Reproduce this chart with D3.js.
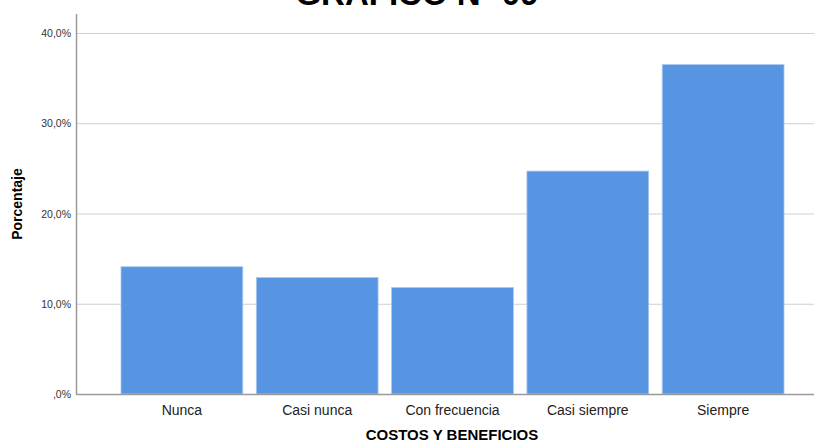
<!DOCTYPE html>
<html>
<head>
<meta charset="utf-8">
<script src="https://cdn.jsdelivr.net/npm/d3@7"></script>
<style>
	body { margin: 0; background: #fff; }
	svg { display: block; font-family: Arial, "Liberation Sans", sans-serif; }
</style>
</head>
<body>
<div id="chart"></div>
<script>
	let categories = ["Nunca", "Casi nunca", "Con frecuencia", "Casi siempre", "Siempre"];
	let percentages = [14.1, 12.9, 11.8, 24.7, 36.5];
	let yTicks = [0, 10, 20, 30, 40];

	let width = 814;
	let height = 443;
	let plotLeft = 76;
	let plotBottom = 394;
	let plotTop = 33;

	let svg = d3.select('#chart')
		.append('svg')
		.attr('width', width)
		.attr('height', height);

	let x = d3.scaleBand()
		.domain(categories)
		.range([121, 784])
		.paddingInner(0.1)
		.paddingOuter(0);

	let y = d3.scaleLinear()
		.domain([0, 40])
		.range([plotBottom, plotTop]);

	// Title (cut off at the top, as in the original)
	svg.append('text')
		.attr('x', 417)
		.attr('y', 5)
		.attr('text-anchor', 'middle')
		.style('font-size', '33px')
		.style('font-weight', 'bold')
		.text('GRÁFICO Nº 09');

	// Grid lines
	svg.selectAll('.grid')
		.data(yTicks.slice(1))
		.enter()
		.append('line')
		.attr('x1', plotLeft)
		.attr('x2', width)
		.attr('y1', d => y(d) + 0.5)
		.attr('y2', d => y(d) + 0.5)
		.attr('stroke', '#cfcfcf')
		.attr('stroke-width', 1);

	// Bars
	svg.selectAll('.bar')
		.data(percentages)
		.enter()
		.append('rect')
		.attr('x', (d, i) => x(categories[i]))
		.attr('y', d => y(d))
		.attr('width', x.bandwidth())
		.attr('height', d => plotBottom - y(d))
		.attr('fill', '#5795e3')
		.attr('stroke', '#a9c8f0')
		.attr('stroke-width', 0.8);

	// Axes lines
	svg.append('line')
		.attr('x1', plotLeft + 0.5).attr('x2', plotLeft + 0.5)
		.attr('y1', 14).attr('y2', plotBottom)
		.attr('stroke', '#9a9a9a').attr('stroke-width', 1.5);

	svg.append('line')
		.attr('x1', plotLeft).attr('x2', width)
		.attr('y1', plotBottom + 0.5).attr('y2', plotBottom + 0.5)
		.attr('stroke', '#9a9a9a').attr('stroke-width', 1.5);

	// Y tick labels
	let fmt = d => (d === 0 ? '' : d) + ',0%';
	svg.selectAll('.ytick')
		.data(yTicks)
		.enter()
		.append('text')
		.attr('x', plotLeft - 5)
		.attr('y', d => y(d) + 4)
		.attr('text-anchor', 'end')
		.style('font-size', '10.5px')
		.attr('fill', '#333')
		.text(fmt);

	// X category labels
	svg.selectAll('.xtick')
		.data(categories)
		.enter()
		.append('text')
		.attr('x', d => x(d) + x.bandwidth() / 2)
		.attr('y', 415)
		.attr('text-anchor', 'middle')
		.style('font-size', '14px')
		.attr('fill', '#222')
		.text(d => d);

	// Axis titles
	svg.append('text')
		.attr('x', 452)
		.attr('y', 440)
		.attr('text-anchor', 'middle')
		.style('font-size', '15px')
		.style('font-weight', 'bold')
		.text('COSTOS Y BENEFICIOS');

	svg.append('text')
		.attr('transform', 'translate(22, 204) rotate(-90)')
		.attr('text-anchor', 'middle')
		.style('font-size', '14px')
		.style('font-weight', 'bold')
		.text('Porcentaje');
</script>
</body>
</html>
